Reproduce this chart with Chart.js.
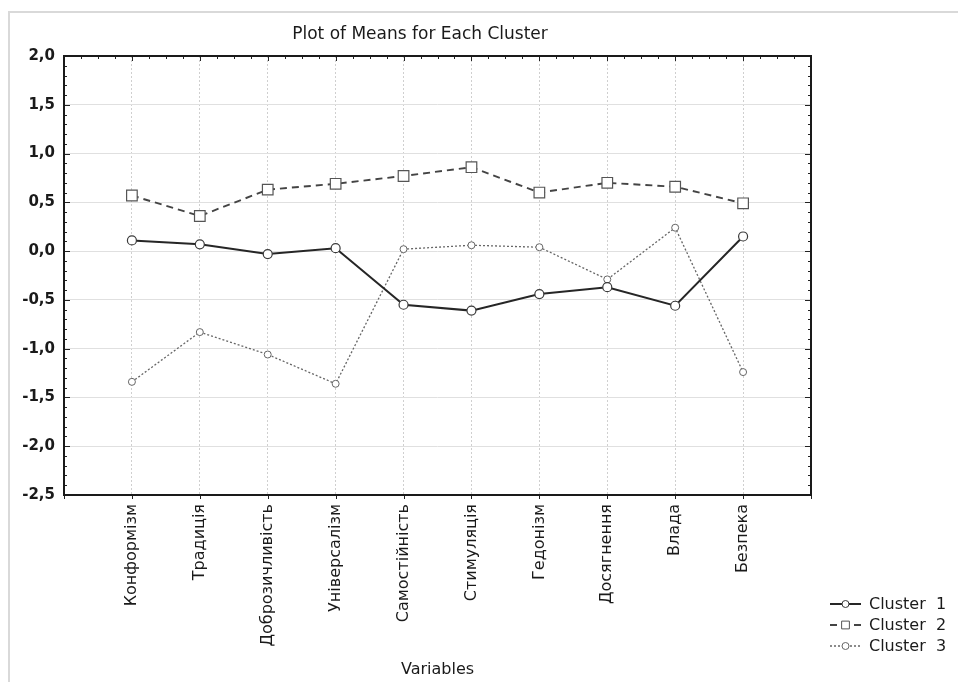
<!DOCTYPE html>
<html>
<head>
<meta charset="utf-8">
<script src="https://cdn.jsdelivr.net/npm/chart.js@4"></script>
<style>
  html, body { margin: 0; padding: 0; background: #fff; }
  #wrap { width: 958px; height: 682px; }
</style>
</head>
<body>
<div id="wrap"><canvas id="chart" width="958" height="682"></canvas></div>
<script>
// Data
const categories = ["Конформізм", "Традиція", "Доброзичливість", "Універсалізм", "Самостійність",
  "Стимуляція", "Гедонізм", "Досягнення", "Влада", "Безпека"];
const cluster1 = [0.11, 0.07, -0.03, 0.03, -0.55, -0.61, -0.44, -0.37, -0.56, 0.15];
const cluster2 = [0.57, 0.36, 0.63, 0.69, 0.77, 0.86, 0.60, 0.70, 0.66, 0.49];
const cluster3 = [-1.34, -0.83, -1.06, -1.36, 0.02, 0.06, 0.04, -0.29, 0.24, -1.24];
const yMin = -2.5, yMax = 2.0, yStep = 0.5;
const seriesNames = ["Cluster  1", "Cluster  2", "Cluster  3"];

const FONT = "'DejaVu Sans', 'Liberation Sans', sans-serif";

function toPoints(arr) {
  return arr.map((v, i) => ({ x: i + 1, y: v }));
}

// page frame + title + inner ticks + plot box + legend
const decor = {
  id: "decor",
  beforeDraw(chart) {
    const ctx = chart.ctx;
    ctx.save();
    ctx.fillStyle = "#fff";
    ctx.fillRect(0, 0, chart.width, chart.height);
    ctx.strokeStyle = "#d9d9d9";
    ctx.lineWidth = 2;
    ctx.beginPath();
    ctx.moveTo(9, chart.height);
    ctx.lineTo(9, 12);
    ctx.lineTo(chart.width, 12);
    ctx.stroke();
    ctx.restore();
  },
  afterDraw(chart) {
    const ctx = chart.ctx;
    const a = chart.chartArea;
    const xs = chart.scales.x, ys = chart.scales.y;
    ctx.save();

    // title
    ctx.fillStyle = "#1a1a1a";
    ctx.font = "17px " + FONT;
    ctx.textAlign = "center";
    ctx.textBaseline = "middle";
    ctx.fillText("Plot of Means for Each Cluster", 420, 35);

    // ticks on the frame
    ctx.strokeStyle = "#222";
    ctx.lineWidth = 1;
    ctx.beginPath();
    for (let k = 0; k <= Math.round((yMax - yMin) * 10); k++) {
      const v = yMin + k / 10;
      const py = Math.round(ys.getPixelForValue(v)) + 0.5;
      const len = k % 5 === 0 ? 6 : 3;
      ctx.moveTo(a.left, py); ctx.lineTo(a.left + len, py);
      ctx.moveTo(a.right, py); ctx.lineTo(a.right - len, py);
    }
    for (let k = 0; k <= 44; k++) {
      const px = Math.round(xs.getPixelForValue(k / 4)) + 0.5;
      const len = k % 4 === 0 ? 5 : 3;
      ctx.moveTo(px, a.top); ctx.lineTo(px, a.top + len);
      if (k % 4 === 0) { ctx.moveTo(px, a.bottom); ctx.lineTo(px, a.bottom + 4); }
    }
    ctx.stroke();

    // plot box
    ctx.lineWidth = 2;
    ctx.strokeStyle = "#1a1a1a";
    ctx.strokeRect(a.left, a.top, a.right - a.left, a.bottom - a.top);

    // legend
    ctx.font = "16px " + FONT;
    ctx.textAlign = "left";
    ctx.textBaseline = "middle";
    chart.data.datasets.forEach((ds, i) => {
      const y = 604 + i * 21;
      ctx.save();
      ctx.strokeStyle = ds.borderColor;
      ctx.lineWidth = ds.borderWidth;
      ctx.setLineDash(ds.borderDash || []);
      ctx.beginPath();
      ctx.moveTo(830, y); ctx.lineTo(861, y);
      ctx.stroke();
      ctx.setLineDash([]);
      ctx.fillStyle = "#fff";
      ctx.strokeStyle = ds.pointBorderColor;
      ctx.lineWidth = 1;
      Chart.helpers.drawPoint(ctx, {
        pointStyle: ds.pointStyle,
        radius: ds.pointStyle === "rect" ? 5.5 : 3.5,
        borderWidth: 1
      }, 845.5, y);
      ctx.restore();
      ctx.fillStyle = "#1a1a1a";
      ctx.fillText(ds.label, 869, y + 1);
    });

    ctx.restore();
  }
};

new Chart(document.getElementById("chart"), {
  type: "line",
  data: {
    datasets: [
      {
        label: seriesNames[0],
        data: toPoints(cluster1),
        borderColor: "#262626",
        borderWidth: 2,
        pointStyle: "circle",
        pointRadius: 4.5,
        pointBackgroundColor: "#fff",
        pointBorderColor: "#3a3a3a",
        pointBorderWidth: 1.2
      },
      {
        label: seriesNames[1],
        data: toPoints(cluster2),
        borderColor: "#444",
        borderWidth: 1.9,
        borderDash: [7, 5],
        pointStyle: "rect",
        pointRadius: 7.5,
        pointBackgroundColor: "#fff",
        pointBorderColor: "#555",
        pointBorderWidth: 1.2
      },
      {
        label: seriesNames[2],
        data: toPoints(cluster3),
        borderColor: "#666",
        borderWidth: 1.3,
        borderDash: [2, 2],
        pointStyle: "circle",
        pointRadius: 3.5,
        pointBackgroundColor: "#fff",
        pointBorderColor: "#666",
        pointBorderWidth: 1
      }
    ]
  },
  options: {
    responsive: false,
    animation: false,
    clip: false,
    layout: { padding: { left: 0, top: 56, right: 147, bottom: 0 } },
    plugins: {
      legend: { display: false },
      title: { display: false },
      tooltip: { enabled: false }
    },
    scales: {
      x: {
        type: "linear",
        min: 0,
        max: categories.length + 1,
        afterFit(scale) { scale.height = 187; },
        grid: {
          color: (c) => (c.tick && c.tick.value > 0 && c.tick.value <= categories.length) ? "#cfcfcf" : "rgba(0,0,0,0)",
          lineWidth: 1,
          drawTicks: false
        },
        border: { display: false, dash: [2, 2] },
        ticks: {
          stepSize: 1,
          autoSkip: false,
          minRotation: 90,
          maxRotation: 90,
          padding: 9,
          color: "#1a1a1a",
          font: { family: FONT, size: 16 },
          callback: (v) => categories[v - 1] || ""
        },
        title: {
          display: true,
          text: "Variables",
          color: "#1a1a1a",
          font: { family: FONT, size: 16 },
          padding: { top: 4, bottom: 3 }
        }
      },
      y: {
        min: yMin,
        max: yMax,
        afterFit(scale) { scale.width = 64; },
        grid: { color: "#e0e0e0", lineWidth: 1, drawTicks: false },
        border: { display: false },
        ticks: {
          stepSize: yStep,
          padding: 9,
          color: "#1a1a1a",
          font: { family: FONT, size: 15, weight: "bold" },
          callback: (v) => v.toFixed(1).replace(".", ",")
        }
      }
    }
  },
  plugins: [decor]
});
</script>
</body>
</html>
